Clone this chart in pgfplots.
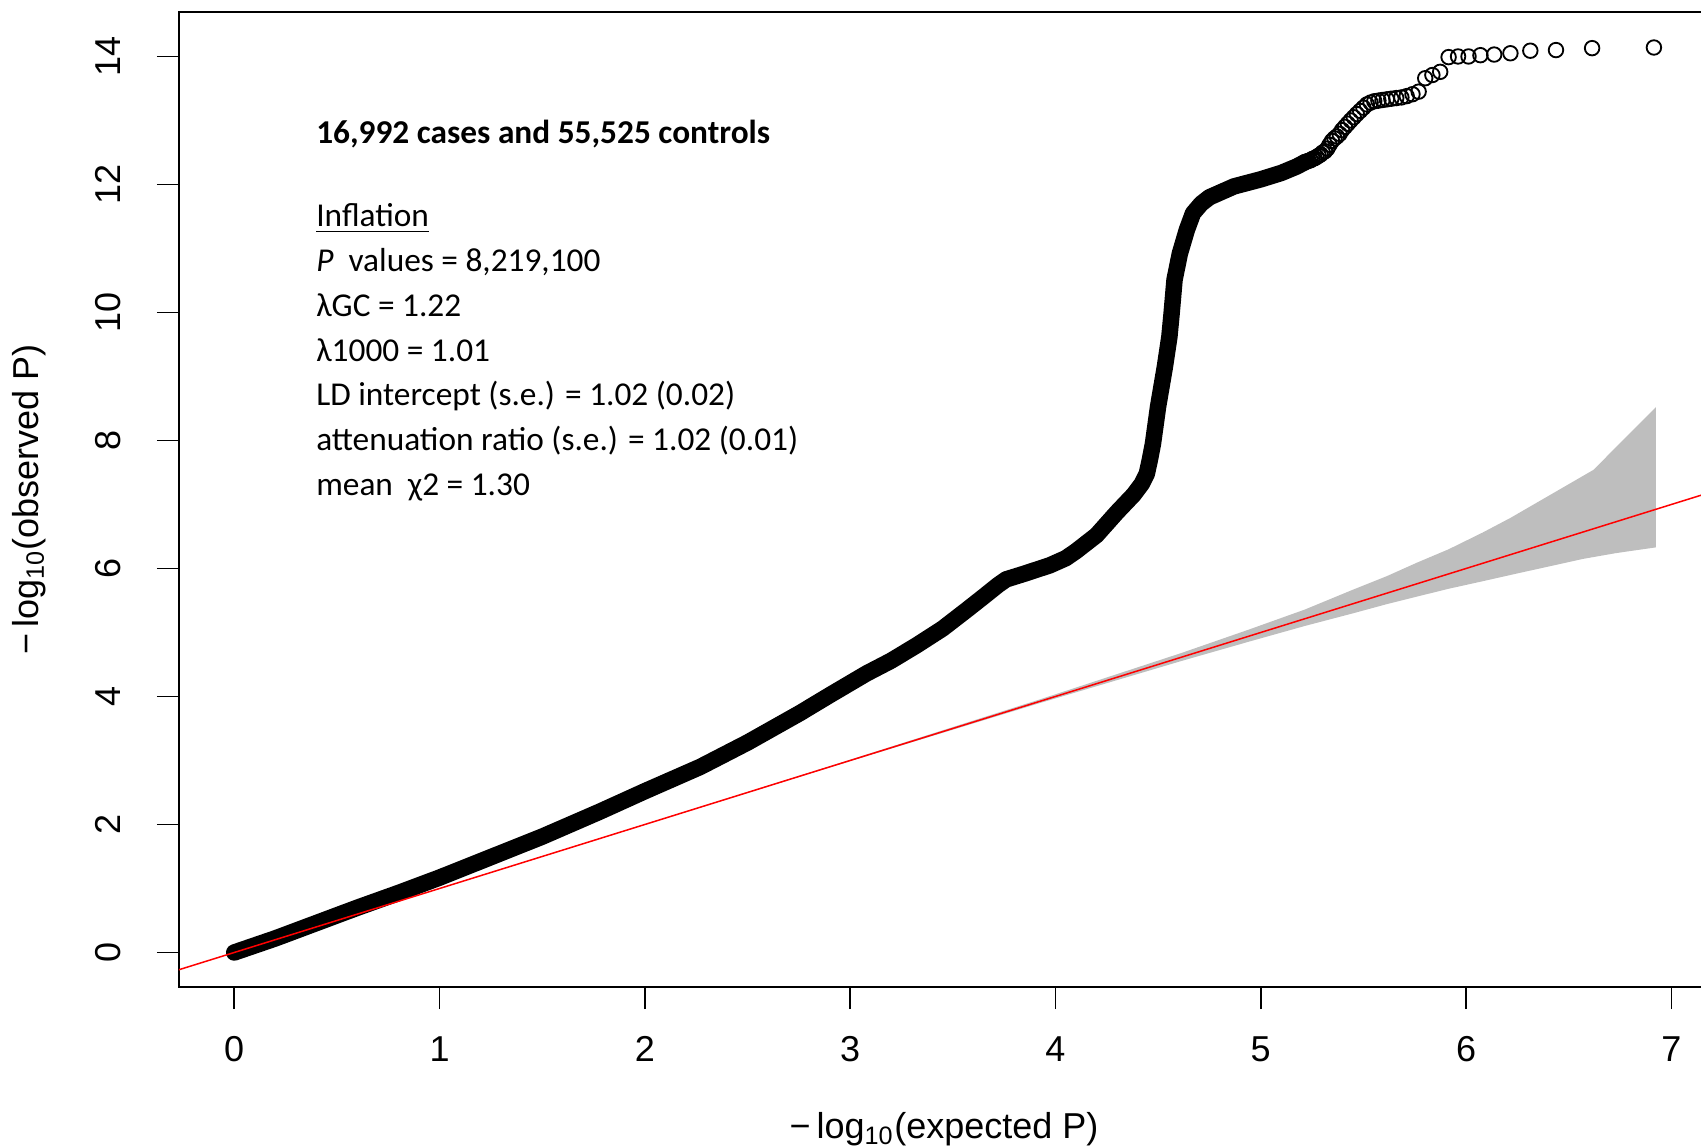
\documentclass[border=0pt]{standalone}
\usepackage{fontspec}
\setmainfont{Liberation Sans}
\newfontfamily\calfont{Carlito}
\usepackage{pgfplots}
\pgfplotsset{compat=1.18}
\definecolor{bandgray}{RGB}{190,190,190}
\begin{document}
\begin{tikzpicture}
\useasboundingbox (-53.7pt,-48.3pt) rectangle (456.6pt,296.1pt);
\begin{axis}[
  scale only axis, width=459pt, height=292.5pt,
  xmin=-0.269, xmax=7.1835, ymin=-0.539, ymax=14.695,
  axis line style={line width=0.6pt},
  tick align=outside, tick pos=left,
  major tick length=6.6pt,
  every tick/.style={black, line width=0.45pt},
  xtick={0,...,7}, ytick={0,2,...,14},
  /pgf/number format/assume math mode=true,
  tick label style={font=\fontsize{10.8}{13}\selectfont},
  xticklabel style={anchor=center, yshift=-12pt},
  yticklabel style={anchor=center, xshift=-14.6pt, rotate=90},
  every axis x label/.style={at={(axis description cs:0.5,0)}, anchor=center, yshift=-42.8pt, font=\fontsize{10.8}{13}\selectfont},
  every axis y label/.style={at={(axis description cs:0,0.5)}, xshift=-45pt, rotate=90, anchor=center, font=\fontsize{10.8}{13}\selectfont},
  xlabel={−\,log\textsubscript{10}(expected P)},
  ylabel={−\,log\textsubscript{10}(observed P)},
]
% 95% confidence band
\addplot[fill=bandgray, draw=none] coordinates {
  (0,0) (1.915,1.918) (2.915,2.925) (3.915,3.945) (4.614,4.68) (4.946,5.05)
  (5.216,5.36) (5.45,5.67) (5.614,5.88) (5.76,6.09) (5.915,6.30) (6.08,6.56)
  (6.216,6.79) (6.41,7.15) (6.62,7.54) (6.925,8.52)
  (6.925,6.33) (6.73,6.24) (6.57,6.15) (6.438,6.056) (6.246,5.92) (6.08,5.80) (5.915,5.683)
  (5.76,5.56) (5.614,5.443) (5.45,5.30) (5.216,5.103) (4.946,4.86) (4.614,4.555)
  (3.915,3.889) (2.915,2.906) (1.915,1.912) (0,0)
};
% dense part of the observed quantiles
\addplot[black, no markers, line width=4.95pt, line join=round, line cap=round] coordinates {
  (0,0.0) (0.2,0.22) (0.4,0.46) (0.6,0.70) (0.8,0.93) (1.0,1.17) (1.25,1.49)
  (1.5,1.81) (1.78,2.20) (2.0,2.52) (2.27,2.90) (2.5,3.28) (2.755,3.74)
  (2.9,4.02) (3.08,4.36) (3.2,4.56) (3.324,4.80) (3.45,5.06) (3.567,5.35)
  (3.65,5.56) (3.72,5.74) (3.76,5.83) (3.85,5.92) (3.973,6.05) (4.05,6.16)
  (4.1,6.27) (4.2,6.52) (4.3,6.88) (4.38,7.15) (4.42,7.32) (4.445,7.48)
  (4.46,7.70) (4.475,7.95) (4.50,8.53) (4.533,9.15) (4.555,9.62) (4.566,9.99)
  (4.58,10.51) (4.606,10.92) (4.64,11.29) (4.67,11.55) (4.71,11.70)
  (4.75,11.80) (4.87,11.97) (5.0,12.08) (5.10,12.18) (5.175,12.28) (5.216,12.35)
};
% sparse top points
\addplot[only marks, mark=o, mark size=2.18pt, mark options={line width=0.55pt, draw=black}] coordinates {
  (6.915,14.14) (6.614,14.13) (6.438,14.10) (6.313,14.09) (6.216,14.05)
  (6.137,14.03) (6.070,14.02) (6.012,14.00) (5.961,14.00) (5.915,13.99)
  (5.874,13.76) (5.836,13.71) (5.801,13.66) (5.769,13.45) (5.739,13.41)
  (5.711,13.38) (5.685,13.36) (5.660,13.35) (5.636,13.34) (5.614,13.33)
  (5.593,13.32) (5.573,13.31) (5.553,13.30) (5.535,13.28) (5.517,13.25)
  (5.500,13.20) (5.484,13.15) (5.468,13.10) (5.453,13.05) (5.438,13.00)
  (5.424,12.95) (5.410,12.90) (5.396,12.85) (5.384,12.79) (5.371,12.75)
  (5.359,12.72) (5.347,12.68) (5.335,12.62) (5.324,12.56) (5.313,12.52)
  (5.302,12.50) (5.292,12.47) (5.282,12.45) (5.272,12.43) (5.262,12.41)
  (5.252,12.40) (5.243,12.38) (5.234,12.37) (5.225,12.36) (5.216,12.35)
};
% identity line
\addplot[red, no markers, line width=0.45pt] coordinates {(-0.6,-0.6) (7.5,7.5)};
% annotation
\node[anchor=base west, inner sep=0pt, font=\calfont\fontsize{10}{12}\selectfont\bfseries] at (axis cs:0.3965,12.645) {16,992 cases and 55,525 controls};
\node[anchor=base west, inner sep=0pt, font=\calfont\fontsize{10}{12}\selectfont] at (axis cs:0.3965,11.341) {\underline{Inflation}};
\node[anchor=base west, inner sep=0pt, font=\calfont\fontsize{10}{12}\selectfont] at (axis cs:0.3965,10.641) {\textit{P}\ \ values = 8,219,100};
\node[anchor=base west, inner sep=0pt, font=\calfont\fontsize{10}{12}\selectfont] at (axis cs:0.3965,9.941) {λGC = 1.22};
\node[anchor=base west, inner sep=0pt, font=\calfont\fontsize{10}{12}\selectfont] at (axis cs:0.3965,9.241) {λ1000 = 1.01};
\node[anchor=base west, inner sep=0pt, font=\calfont\fontsize{10}{12}\selectfont] at (axis cs:0.3965,8.541) {LD intercept (s.e.) = 1.02 (0.02)};
\node[anchor=base west, inner sep=0pt, font=\calfont\fontsize{10}{12}\selectfont] at (axis cs:0.3965,7.841) {attenuation ratio (s.e.) = 1.02 (0.01)};
\node[anchor=base west, inner sep=0pt, font=\calfont\fontsize{10}{12}\selectfont] at (axis cs:0.3965,7.141) {mean\ \ χ2 = 1.30};
\end{axis}
\end{tikzpicture}
\end{document}
